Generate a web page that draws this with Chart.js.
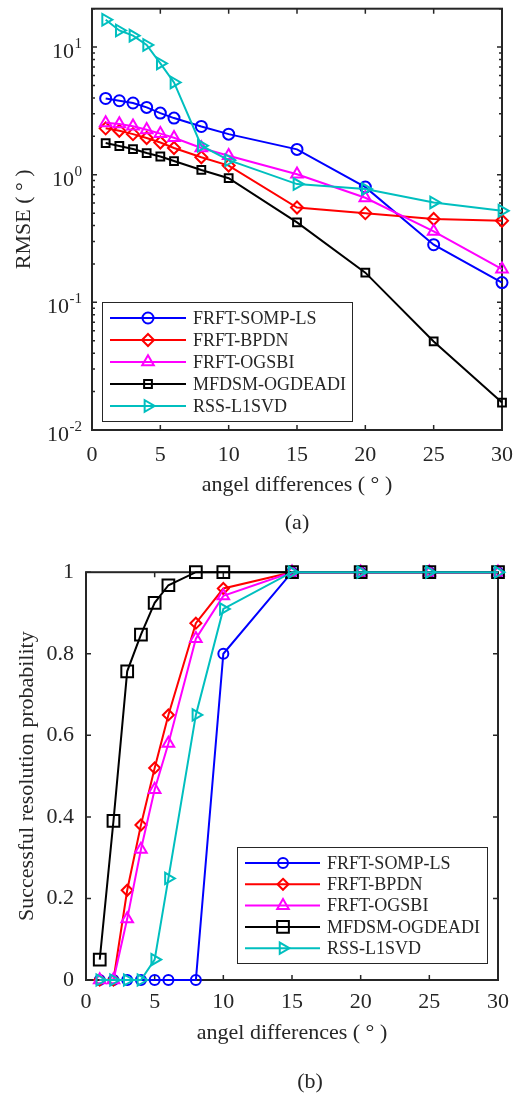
<!DOCTYPE html>
<html>
<head>
<meta charset="utf-8">
<script src="https://cdn.jsdelivr.net/npm/chart.js@4.4.0/dist/chart.umd.min.js"></script>
<style>
  html, body { margin: 0; padding: 0; background: #fff; }
  .panel { position: relative; width: 525px; height: 547px; }
  canvas { display: block; }
</style>
</head>
<body>
<div class="panel"><canvas id="rmse" width="525" height="547"></canvas></div>
<div class="panel"><canvas id="prob" width="525" height="547"></canvas></div>
<script>
// angle differences (deg) shared by both panels
const angles = [1, 2, 3, 4, 5, 6, 8, 10, 15, 20, 25, 30];
const methods = ['FRFT-SOMP-LS', 'FRFT-BPDN', 'FRFT-OGSBI', 'MFDSM-OGDEADI', 'RSS-L1SVD'];

// (a) RMSE in degrees
const rmseSompLs = [3.96, 3.8, 3.65, 3.37, 3.04, 2.78, 2.39, 2.08, 1.58, 0.80, 0.283, 0.143];
const rmseBpdn   = [2.31, 2.21, 2.08, 1.94, 1.79, 1.62, 1.37, 1.18, 0.554, 0.50, 0.45, 0.436];
const rmseOgsbi  = [2.55, 2.5, 2.4, 2.25, 2.1, 1.95, 1.62, 1.41, 1.01, 0.66, 0.36, 0.182];
const rmseMfdsm  = [1.77, 1.68, 1.59, 1.48, 1.39, 1.28, 1.09, 0.94, 0.423, 0.171, 0.0494, 0.0164];
const rmseL1svd  = [16.4, 13.5, 12.3, 10.4, 7.45, 5.29, 1.69, 1.30, 0.845, 0.772, 0.607, 0.522];

// (b) successful resolution probability
const probSompLs = [0, 0, 0, 0, 0, 0, 0, 0.8, 1, 1, 1, 1];
const probBpdn   = [0, 0, 0.22, 0.38, 0.52, 0.65, 0.875, 0.96, 1, 1, 1, 1];
const probOgsbi  = [0, 0, 0.15, 0.32, 0.467, 0.58, 0.837, 0.942, 1, 1, 1, 1];
const probMfdsm  = [0.05, 0.39, 0.757, 0.847, 0.925, 0.968, 1, 1, 1, 1, 1, 1];
const probL1svd  = [0, 0, 0, 0, 0.05, 0.249, 0.65, 0.91, 1, 1, 1, 1];

// tick labels
const xTicks = [0, 5, 10, 15, 20, 25, 30];
const rmseTicks = [0.01, 0.1, 1, 10];
const probTicks = [0, 0.2, 0.4, 0.6, 0.8, 1];

const colors = ['#0000ff', '#ff0000', '#ff00ff', '#000000', '#00bfbf'];
const markers = ['circle', 'rectRot', 'triangle', 'rect', 'triangle'];
const rotations = [0, 0, 0, 0, 90];
const axisColor = '#262626';
const serif = "'Liberation Serif', 'Times New Roman', serif";

Chart.defaults.font.family = serif;
Chart.defaults.color = axisColor;

// minor ticks for the log axis
const rmseMinor = [];
rmseTicks.forEach(d => { for (let k = 2; k <= 9; k++) if (d * k <= 20) rmseMinor.push(d * k); });

function makeSets(rows, radii) {
  return rows.map((vals, i) => ({
    label: methods[i],
    data: angles.map((a, k) => ({ x: a, y: vals[k] })),
    borderColor: colors[i],
    borderWidth: 2,
    pointStyle: markers[i],
    pointRotation: rotations[i],
    pointRadius: radii[i],
    pointBorderWidth: 2,
    pointBorderColor: colors[i],
    pointBackgroundColor: 'rgba(0,0,0,0)',
    tension: 0,
    clip: false,
    order: rows.length - i
  }));
}

function drawMarker(ctx, style, r, rot, x, y) {
  ctx.beginPath();
  if (style === 'circle') {
    ctx.arc(x, y, r, 0, Math.PI * 2);
  } else if (style === 'rect') {
    const s = r * Math.SQRT1_2;
    ctx.rect(x - s, y - s, 2 * s, 2 * s);
  } else if (style === 'rectRot') {
    ctx.moveTo(x, y - r); ctx.lineTo(x + r, y); ctx.lineTo(x, y + r); ctx.lineTo(x - r, y);
    ctx.closePath();
  } else {
    let t = rot * Math.PI / 180;
    ctx.moveTo(x + Math.sin(t) * r, y - Math.cos(t) * r);
    for (let j = 0; j < 2; j++) {
      t += 2 * Math.PI / 3;
      ctx.lineTo(x + Math.sin(t) * r, y - Math.cos(t) * r);
    }
    ctx.closePath();
  }
  ctx.stroke();
}

// box, inward ticks, caption
const frame = {
  id: 'frame',
  beforeDatasetsDraw(chart, args, o) {
    const { ctx, chartArea: a, scales: { x, y } } = chart;
    ctx.save();
    ctx.strokeStyle = axisColor;
    ctx.lineWidth = 1.5;
    ctx.beginPath();
    xTicks.forEach(v => {
      const px = x.getPixelForValue(v);
      ctx.moveTo(px, a.bottom); ctx.lineTo(px, a.bottom - 5);
      ctx.moveTo(px, a.top); ctx.lineTo(px, a.top + 5);
    });
    o.yMajor.forEach(v => {
      const py = y.getPixelForValue(v);
      ctx.moveTo(a.left, py); ctx.lineTo(a.left + 5, py);
      ctx.moveTo(a.right, py); ctx.lineTo(a.right - 5, py);
    });
    (o.yMinor || []).forEach(v => {
      const py = y.getPixelForValue(v);
      ctx.moveTo(a.left, py); ctx.lineTo(a.left + 3, py);
      ctx.moveTo(a.right, py); ctx.lineTo(a.right - 3, py);
    });
    ctx.stroke();
    ctx.lineWidth = 2;
    ctx.strokeRect(a.left, a.top, a.right - a.left, a.bottom - a.top);

    if (o.powers) {
      // 10^n labels for log axis
      rmseTicks.forEach(v => {
        const py = y.getPixelForValue(v);
        const exp = String(Math.round(Math.log10(v)));
        ctx.fillStyle = axisColor;
        ctx.textAlign = 'right';
        ctx.textBaseline = 'alphabetic';
        ctx.font = '15px ' + serif;
        const ew = ctx.measureText(exp).width;
        ctx.fillText(exp, o.labelRight, py + 1);
        ctx.font = '22px ' + serif;
        ctx.fillText('10', o.labelRight - ew - 0.5, py + 11);
      });
    }
    ctx.fillStyle = axisColor;
    ctx.font = '22px ' + serif;
    ctx.textAlign = 'center';
    ctx.textBaseline = 'middle';
    ctx.fillText(o.caption, o.capX, o.capY);
    ctx.restore();
  }
};

// legend box drawn inside the axes
const boxLegend = {
  id: 'boxLegend',
  afterDraw(chart, args, o) {
    const ctx = chart.ctx;
    ctx.save();
    ctx.fillStyle = '#fff';
    ctx.fillRect(o.x, o.y, o.w, o.h);
    ctx.strokeStyle = axisColor;
    ctx.lineWidth = 1;
    ctx.strokeRect(o.x + 0.5, o.y + 0.5, o.w, o.h);
    ctx.font = '18px ' + serif;
    ctx.textBaseline = 'middle';
    ctx.textAlign = 'left';
    chart.data.datasets.forEach((ds, i) => {
      const yy = o.y + o.first + i * o.step;
      ctx.strokeStyle = ds.borderColor;
      ctx.lineWidth = 2;
      ctx.beginPath();
      ctx.moveTo(o.x + o.lineFrom, yy); ctx.lineTo(o.x + o.lineTo, yy);
      ctx.stroke();
      drawMarker(ctx, ds.pointStyle, ds.pointRadius, ds.pointRotation, o.x + o.mark, yy);
      ctx.fillStyle = axisColor;
      ctx.fillText(ds.label, o.x + o.text, yy + 1);
    });
    ctx.restore();
  }
};

const xAxis = (height, pad, titlePad) => ({
  type: 'linear',
  min: 0, max: 30,
  afterBuildTicks: s => { s.ticks = xTicks.map(v => ({ value: v })); },
  afterFit: s => { s.height = height; },
  grid: { display: false, drawTicks: false },
  border: { display: false },
  ticks: { font: { size: 22 }, padding: pad, color: axisColor },
  title: { display: true, text: 'angel differences ( \u00b0 )', font: { size: 22 }, color: axisColor, padding: { top: 0, bottom: titlePad } }
});

new Chart(document.getElementById('rmse'), {
  type: 'line',
  data: { datasets: makeSets([rmseSompLs, rmseBpdn, rmseOgsbi, rmseMfdsm, rmseL1svd], [5.5, 6, 6.7, 5.5, 6.7]) },
  options: {
    responsive: false,
    animation: false,
    events: [],
    layout: { padding: { top: 8, right: 19, left: 0, bottom: 0 } },
    scales: {
      x: xAxis(117, 12, 49),
      y: {
        type: 'logarithmic',
        min: 0.01, max: 20,
        afterFit: s => { s.width = 92; },
        grid: { display: false, drawTicks: false },
        border: { display: false },
        ticks: { display: false },
        title: { display: true, text: 'RMSE ( \u00b0 )', font: { size: 22 }, color: axisColor, padding: { top: 11, bottom: 0 } }
      }
    },
    plugins: {
      legend: { display: false },
      tooltip: { enabled: false },
      frame: { yMajor: rmseTicks, yMinor: rmseMinor, powers: true, labelRight: 82, caption: '(a)', capX: 297, capY: 523 },
      boxLegend: { x: 102, y: 302, w: 250, h: 119, first: 16, step: 22, lineFrom: 8, lineTo: 84, mark: 46, text: 91 }
    }
  },
  plugins: [frame, boxLegend]
});

new Chart(document.getElementById('prob'), {
  type: 'line',
  data: { datasets: makeSets([probSompLs, probBpdn, probOgsbi, probMfdsm, probL1svd], [5, 5.5, 6.7, 8.3, 6.5]) },
  options: {
    responsive: false,
    animation: false,
    events: [],
    layout: { padding: { top: 21, right: 27, left: 0, bottom: 0 } },
    scales: {
      x: xAxis(114, 9, 48),
      y: {
        type: 'linear',
        min: 0, max: 1,
        afterBuildTicks: s => { s.ticks = probTicks.map(v => ({ value: v })); },
        afterFit: s => { s.width = 86; },
        grid: { display: false, drawTicks: false },
        border: { display: false },
        ticks: { font: { size: 22 }, padding: 12, color: axisColor, callback: v => String(v) },
        title: { display: true, text: 'Successful resolution probability', font: { size: 22 }, color: axisColor, padding: { top: 14, bottom: 0 } }
      }
    },
    plugins: {
      legend: { display: false },
      tooltip: { enabled: false },
      frame: { yMajor: probTicks, powers: false, caption: '(b)', capX: 310, capY: 535 },
      boxLegend: { x: 237, y: 300, w: 250, h: 116, first: 16, step: 21.3, lineFrom: 8, lineTo: 83, mark: 46, text: 90 }
    }
  },
  plugins: [frame, boxLegend]
});
</script>
</body>
</html>
